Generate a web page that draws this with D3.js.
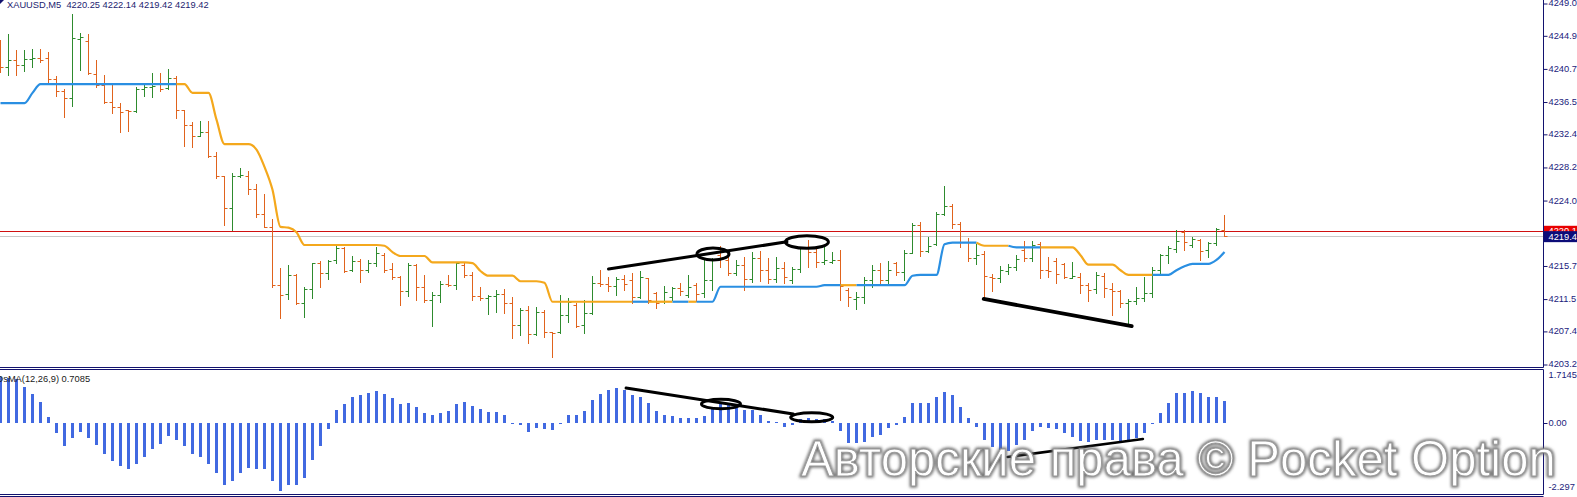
<!DOCTYPE html>
<html>
<head>
<meta charset="utf-8">
<script src="https://cdnjs.cloudflare.com/ajax/libs/d3/7.8.5/d3.min.js"></script>
<style>
  html, body { margin: 0; padding: 0; background: #fff; overflow: hidden; }
  svg { display: block; }
  text { font-family: "Liberation Sans", Arial, sans-serif; }
</style>
</head>
<body>
<div id="chart"></div>
<script>
// XAUUSD M5 bars
const open = [
  4243.3,4240.9,4241.8,4241.1,4241.9,4242.0,4242.0,4239.4,4237.8,4236.9,
  4244.4,4244.2,4240.0,4238.6,4236.4,4235.8,4235.4,4235.3,4238.1,4238.3,
  4238.9,4238.2,4239.5,4235.4,4233.5,4232.1,4232.6,4229.6,4227.1,4223.0,
  4227.1,4227.1,4225.4,4222.2,4220.6,4213.2,4212.1,4214.5,4210.9,4212.7,
  4216.0,4214.7,4216.4,4217.9,4215.1,4216.3,4215.1,4216.0,4217.0,4215.3,
  4214.2,4212.5,4215.8,4213.0,4211.3,4212.0,4213.3,4213.2,4215.8,4214.5,
  4211.8,4211.6,4211.8,4212.1,4210.9,4208.2,4210.0,4207.0,4209.8,4207.3,
  4207.3,4209.4,4210.7,4208.2,4209.7,4213.5,4213.3,4213.1,4214.0,4213.9,
  4211.7,4214.1,4212.2,4211.2,4211.7,4212.8,4212.0,4213.2,4212.2,4213.9,
  4217.0,4216.4,4214.7,4215.8,4214.0,4216.6,4215.1,4214.0,4215.4,4213.9,
  4215.3,4217.9,4217.4,4216.1,4216.1,4216.4,4212.6,4211.4,4211.7,4213.9,
  4215.1,4213.9,4216.0,4214.9,4217.3,4220.8,4217.5,4218.4,4222.2,4223.2,
  4221.0,4218.7,4216.6,4217.2,4214.2,4214.1,4215.0,4215.5,4217.7,4216.6,
  4218.4,4215.1,4216.3,4215.9,4214.1,4214.2,4213.2,4212.7,4214.4,4212.7,
  4212.5,4210.9,4211.2,4211.6,4212.2,4215.1,4217.0,4217.8,4219.9,4218.3,
  4218.9,4217.7,4218.6,4220.25];
const high = [
  4244.3,4245.1,4243.0,4243.0,4243.2,4243.2,4242.8,4239.7,4238.1,4247.6,
  4245.2,4245.1,4241.8,4239.9,4238.7,4236.3,4235.4,4238.3,4238.6,4240.1,
  4240.1,4240.6,4239.7,4235.4,4233.9,4234.0,4234.0,4230.1,4227.1,4227.4,
  4228.1,4227.7,4226.0,4224.8,4221.6,4215.4,4215.8,4214.6,4213.0,4216.0,
  4216.3,4216.4,4218.3,4218.0,4216.9,4216.5,4216.4,4218.0,4217.3,4216.0,
  4214.4,4216.0,4215.9,4214.5,4212.3,4213.7,4214.5,4216.0,4216.0,4214.9,
  4213.0,4212.0,4212.6,4212.7,4211.7,4210.3,4210.6,4210.4,4210.0,4207.3,
  4212.0,4211.6,4210.9,4211.3,4214.4,4215.1,4214.2,4214.2,4214.5,4214.7,
  4215.0,4214.1,4212.3,4213.1,4213.0,4213.5,4214.5,4213.5,4216.4,4216.6,
  4218.2,4216.8,4216.4,4216.8,4217.4,4217.5,4216.6,4216.8,4216.1,4215.5,
  4218.0,4218.9,4218.0,4218.0,4217.4,4217.7,4212.8,4212.3,4214.2,4215.8,
  4216.0,4216.3,4216.1,4217.7,4221.1,4221.2,4219.3,4222.5,4225.8,4223.5,
  4221.2,4219.2,4218.4,4217.5,4214.6,4215.6,4215.9,4217.0,4218.8,4218.8,
  4218.7,4216.8,4216.6,4216.0,4216.1,4214.7,4213.5,4214.9,4214.7,4213.5,
  4212.6,4211.4,4213.0,4214.2,4215.5,4217.2,4218.2,4220.2,4220.2,4219.3,
  4219.1,4218.7,4220.5,4222.14];
const low = [
  4240.2,4239.9,4239.9,4240.4,4240.9,4241.5,4238.9,4237.2,4234.5,4235.9,
  4240.5,4240.0,4238.3,4236.3,4235.0,4232.6,4232.8,4235.2,4237.2,4237.1,
  4237.8,4238.1,4234.4,4230.9,4230.7,4232.1,4229.5,4226.8,4220.8,4220.2,
  4226.9,4224.8,4221.8,4220.6,4213.0,4209.0,4211.4,4210.8,4209.2,4211.6,
  4213.0,4214.0,4216.0,4214.9,4215.0,4213.6,4214.9,4215.6,4214.9,4214.0,
  4210.7,4211.8,4211.3,4211.1,4208.0,4211.1,4213.1,4212.7,4214.2,4211.3,
  4211.3,4209.5,4209.8,4209.7,4206.5,4206.9,4205.9,4206.9,4206.6,4204.1,
  4207.1,4208.5,4207.9,4207.1,4209.5,4213.1,4212.5,4212.0,4212.6,4210.9,
  4211.6,4210.9,4210.3,4210.9,4211.3,4212.0,4211.7,4211.2,4211.7,4212.6,
  4215.5,4214.5,4214.5,4212.6,4213.6,4213.7,4213.5,4213.6,4213.5,4213.5,
  4214.9,4215.5,4215.5,4215.9,4216.0,4211.3,4210.6,4210.2,4210.9,4213.0,
  4213.5,4213.2,4214.5,4213.9,4217.3,4216.9,4217.4,4218.3,4222.1,4220.5,
  4218.0,4216.3,4215.9,4211.6,4212.5,4213.6,4214.6,4215.1,4216.3,4216.3,
  4214.1,4214.2,4213.5,4214.1,4214.1,4212.2,4211.2,4212.2,4211.7,4209.4,
  4210.4,4208.2,4210.8,4211.2,4211.7,4214.7,4216.0,4217.4,4217.7,4218.0,
  4216.4,4216.8,4218.3,4219.42];
const close = [
  4240.9,4241.8,4241.1,4241.9,4242.0,4241.8,4239.4,4237.8,4236.9,4244.6,
  4244.7,4240.1,4238.6,4236.4,4235.8,4235.2,4235.3,4238.1,4238.3,4238.5,
  4238.1,4239.5,4235.4,4233.5,4232.1,4232.6,4229.6,4227.1,4223.0,4227.1,
  4227.2,4225.4,4222.2,4220.6,4213.2,4212.0,4214.5,4210.9,4212.7,4216.0,
  4214.7,4216.3,4217.9,4215.0,4216.3,4215.1,4216.0,4217.3,4215.1,4214.2,
  4212.5,4215.8,4213.0,4211.3,4212.0,4213.3,4213.2,4216.0,4214.5,4211.8,
  4211.6,4211.8,4212.1,4210.9,4208.2,4210.0,4207.0,4209.8,4207.3,4207.1,
  4209.4,4211.1,4208.0,4209.7,4213.5,4213.3,4213.1,4214.0,4213.3,4211.7,
  4214.2,4211.3,4210.9,4212.3,4212.8,4212.5,4213.0,4212.1,4213.9,4216.4,
  4216.5,4214.7,4215.8,4214.0,4216.6,4215.1,4214.0,4215.4,4214.2,4215.3,
  4217.9,4217.4,4216.1,4216.4,4216.4,4213.1,4211.7,4211.7,4213.9,4215.1,
  4213.9,4215.1,4214.9,4217.3,4220.8,4217.5,4218.2,4222.2,4223.2,4221.0,
  4218.7,4216.6,4217.0,4214.4,4214.1,4215.1,4215.5,4216.5,4216.6,4218.3,
  4215.1,4215.0,4214.6,4214.2,4214.4,4213.2,4212.6,4214.5,4212.8,4212.5,
  4210.9,4211.2,4211.6,4212.2,4215.1,4217.0,4217.9,4218.8,4218.7,4219.1,
  4217.5,4218.6,4220.3,4219.42];

// trailing stop line and its colour (1 = blue / up, 0 = orange / down)
const trail = [
  4236.3,4236.3,4236.3,4236.3,4237.6,4238.7,4238.7,4238.7,4238.7,4238.7,
  4238.7,4238.7,4238.7,4238.7,4238.7,4238.7,4238.7,4238.7,4238.7,4238.7,
  4238.7,4238.7,4238.7,4238.7,4237.6,4237.6,4237.6,4234.2,4231.1,4231.1,
  4231.1,4231.1,4230.4,4228.2,4225.3,4220.6,4220.5,4219.9,4218.3,4218.3,
  4218.3,4218.3,4218.3,4218.3,4218.3,4218.3,4218.3,4218.3,4218.2,4217.4,
  4216.9,4216.9,4216.9,4216.9,4216.1,4216.1,4216.1,4216.1,4216.1,4216.0,
  4215.0,4214.4,4214.4,4214.4,4214.4,4213.7,4213.7,4213.7,4213.5,4211.1,
  4211.1,4211.1,4211.1,4211.1,4211.1,4211.1,4211.1,4211.1,4211.1,4211.1,
  4211.1,4211.1,4211.1,4211.1,4211.1,4211.1,4211.1,4211.1,4211.1,4211.1,
  4213.0,4213.0,4213.0,4213.0,4213.0,4213.0,4213.0,4213.0,4213.0,4213.0,
  4213.0,4213.0,4213.0,4213.2,4213.2,4213.2,4213.2,4213.2,4213.2,4213.2,
  4213.2,4213.2,4213.2,4213.2,4214.4,4214.5,4214.5,4214.5,4218.4,4218.6,
  4218.6,4218.6,4218.6,4218.2,4218.2,4218.2,4218.2,4218.0,4218.0,4218.0,
  4218.0,4218.0,4218.0,4218.0,4218.0,4217.0,4215.8,4215.8,4215.8,4215.8,
  4215.1,4214.5,4214.5,4214.5,4214.5,4214.5,4214.5,4215.1,4215.6,4215.9,
  4215.9,4215.9,4216.4,4217.4];
const trailUp = [
  1,1,1,1,1,1,1,1,1,1, 1,1,1,1,1,1,1,1,1,1,
  1,1,0,0,0,0,0,0,0,0, 0,0,0,0,0,0,0,0,0,0,
  0,0,0,0,0,0,0,0,0,0, 0,0,0,0,0,0,0,0,0,0,
  0,0,0,0,0,0,0,0,0,0, 0,0,0,0,0,0,0,0,0,1,
  1,0,0,0,1,1,0,1,1,1, 1,1,1,1,1,1,1,1,1,1,
  1,1,1,1,1,0,0,1,1,1, 1,1,1,1,1,1,1,1,1,1,
  1,1,0,0,0,0,1,1,1,1, 0,0,0,0,0,0,0,0,0,0,
  0,0,0,0,1,1,1,1,1,1, 1,1,1,1];

// OsMA(12,26,9) histogram
const osma = [
  1.50,1.47,1.43,1.17,0.94,0.68,0.20,-0.31,-0.73,-0.48,
  -0.28,-0.48,-0.71,-1.00,-1.22,-1.39,-1.48,-1.33,-1.09,-0.84,
  -0.68,-0.42,-0.55,-0.74,-1.00,-1.09,-1.33,-1.61,-2.01,-1.87,
  -1.61,-1.47,-1.48,-1.48,-1.87,-2.20,-2.01,-2.01,-1.77,-1.20,
  -0.74,-0.19,0.42,0.61,0.83,0.91,0.96,1.04,0.94,0.80,
  0.61,0.66,0.53,0.33,0.26,0.33,0.40,0.61,0.68,0.55,
  0.46,0.37,0.36,0.26,-0.04,-0.06,-0.28,-0.17,-0.20,-0.23,
  -0.03,0.26,0.26,0.39,0.74,0.94,1.07,1.12,1.07,0.91,
  0.85,0.66,0.40,0.26,0.23,0.15,0.15,0.15,0.23,0.48,
  0.64,0.58,0.48,0.42,0.42,0.26,0.07,0.03,-0.12,-0.06,
  0.13,0.15,0.12,0.12,0.07,-0.25,-0.65,-0.66,-0.60,-0.46,
  -0.39,-0.17,-0.06,0.20,0.64,0.66,0.64,0.85,1.01,0.91,
  0.53,0.15,-0.12,-0.55,-0.79,-0.87,-0.90,-0.71,-0.55,-0.25,
  -0.12,-0.17,-0.20,-0.33,-0.44,-0.57,-0.60,-0.55,-0.55,-0.55,
  -0.60,-0.55,-0.49,-0.33,-0.03,0.33,0.64,0.96,0.98,1.04,
  0.98,0.85,0.83,0.7085];

const priceTicks = [4249.0, 4244.9, 4240.7, 4236.5, 4232.4, 4228.2, 4224.0, 4215.7, 4211.5, 4207.4, 4203.2];
const osmaTicks = [1.7145, 0, -2.297];
const osmaTickLabels = ["1.7145", "0.00", "-2.297"];
const bidPrice = 4219.42, askLine = 4220.1;

// hand drawn marks: [barIndex, value]
const priceTrendLines = [[[76.0, 4215.25], [98.3, 4218.7]], [[122.9, 4211.45], [141.4, 4208.0]]];
const priceCircles = [[89.06, 4217.16, 2.0, 0.76], [100.8, 4218.68, 2.69, 0.80]];
const osmaTrendLines = [[[78.2, 1.132], [99.1, 0.291]], [[125.9, -1.10], [142.8, -0.518]]];
const osmaCircles = [[90.06, 0.614, 2.44, 0.152], [101.4, 0.184, 2.63, 0.146]];

const W = 1577, H = 497, axisX = 1543.5;
const navy = "#12126e", upCol = "#2e8b2e", dnCol = "#e0631d";
const blue = "#2a8fe2", orange = "#f4a81c", histCol = "#4169e1";
const n = close.length;

const svg = d3.select("#chart").append("svg").attr("width", W).attr("height", H);
const defs = svg.append("defs");
defs.append("clipPath").attr("id", "mainClip").append("rect").attr("x", 0).attr("y", 0).attr("width", 1543).attr("height", 367);
defs.append("clipPath").attr("id", "subClip").append("rect").attr("x", 0).attr("y", 370).attr("width", 1543).attr("height", 124);
defs.append("filter").attr("id", "wmBlur").attr("x", "-5%").attr("y", "-20%").attr("width", "110%").attr("height", "140%")
  .append("feGaussianBlur").attr("stdDeviation", 1.6);

const x = d3.scaleLinear().domain([0, 153]).range([0.5, 1224.5]);
const y = d3.scaleLinear().domain([4203.2, 4249.0]).range([364, 3]);
const yM = d3.scaleLinear().domain([-2.297, 1.7145]).range([494, 370]);
const crisp = v => Math.round(v) + 0.5;

// main panel
const main = svg.append("g").attr("clip-path", "url(#mainClip)");

main.append("line").attr("x1", 0).attr("x2", 1543).attr("y1", crisp(y(bidPrice))).attr("y2", crisp(y(bidPrice)))
  .attr("stroke", "#c8c8c8");
main.append("line").attr("x1", 0).attr("x2", 1543).attr("y1", crisp(y(askLine))).attr("y2", crisp(y(askLine)))
  .attr("stroke", "#d01010");

const bars = main.append("g").selectAll("g").data(d3.range(n)).enter().append("g")
  .attr("stroke", i => close[i] > open[i] ? upCol : dnCol).attr("stroke-width", 1);
bars.append("line")
  .attr("x1", i => x(i)).attr("x2", i => x(i))
  .attr("y1", i => Math.round(y(high[i]))).attr("y2", i => Math.round(y(low[i])) + 1);
bars.append("line")
  .attr("x1", i => x(i) - 3).attr("x2", i => x(i))
  .attr("y1", i => crisp(y(open[i]))).attr("y2", i => crisp(y(open[i])));
bars.append("line")
  .attr("x1", i => x(i)).attr("x2", i => x(i) + 3)
  .attr("y1", i => crisp(y(close[i]))).attr("y2", i => crisp(y(close[i])));

// trailing line, split into colour runs
const runs = [];
for (let i = 0; i < n - 1; i++) {
  const last = runs[runs.length - 1];
  if (last && last.up === trailUp[i]) last.to = i + 1;
  else runs.push({up: trailUp[i], from: i, to: i + 1});
}
const trailLine = d3.line().x(i => x(i)).y(i => y(trail[i])).curve(d3.curveMonotoneX);
main.append("g").selectAll("path").data(runs).enter().append("path")
  .attr("d", r => trailLine(d3.range(r.from, r.to + 1)))
  .attr("fill", "none").attr("stroke", r => r.up ? blue : orange).attr("stroke-width", 2.2)
  .attr("stroke-linejoin", "round");

// annotations
main.selectAll("line.trend").data(priceTrendLines).enter().append("line").attr("class", "trend")
  .attr("x1", d => x(d[0][0])).attr("y1", d => y(d[0][1]))
  .attr("x2", d => x(d[1][0])).attr("y2", d => y(d[1][1]))
  .attr("stroke", "#000").attr("stroke-width", (d, k) => k ? 3.8 : 3).attr("stroke-linecap", "round");
main.selectAll("ellipse").data(priceCircles).enter().append("ellipse")
  .attr("cx", d => x(d[0])).attr("cy", d => y(d[1]))
  .attr("rx", d => x(d[2]) - x(0)).attr("ry", d => y(0) - y(d[3]))
  .attr("fill", "none").attr("stroke", "#000").attr("stroke-width", 3);

// OsMA panel
const sub = svg.append("g").attr("clip-path", "url(#subClip)");
const zeroY = yM(0);
sub.append("g").selectAll("rect").data(d3.range(n)).enter().append("rect")
  .attr("x", i => x(i) - 1.5).attr("width", 3)
  .attr("y", i => Math.round(Math.min(yM(osma[i]), zeroY)))
  .attr("height", i => Math.max(1, Math.round(Math.abs(yM(osma[i]) - zeroY))))
  .attr("fill", histCol);
sub.selectAll("line.trend").data(osmaTrendLines).enter().append("line").attr("class", "trend")
  .attr("x1", d => x(d[0][0])).attr("y1", d => yM(d[0][1]))
  .attr("x2", d => x(d[1][0])).attr("y2", d => yM(d[1][1]))
  .attr("stroke", "#000").attr("stroke-width", (d, k) => k ? 2.6 : 3).attr("stroke-linecap", "round");
sub.selectAll("ellipse").data(osmaCircles).enter().append("ellipse")
  .attr("cx", d => x(d[0])).attr("cy", d => yM(d[1]))
  .attr("rx", d => x(d[2]) - x(0)).attr("ry", d => yM(0) - yM(d[3]))
  .attr("fill", "none").attr("stroke", "#000").attr("stroke-width", 3);
sub.append("text").attr("x", -4).attr("y", 382).attr("font-size", 9.3).attr("fill", "#1a1a1a")
  .text("OsMA(12,26,9) 0.7085");

// header
svg.append("path").attr("d", "M0,0 L4,0 L0,4 Z").attr("fill", navy);
svg.append("text").attr("x", 7).attr("y", 7.5).attr("font-size", 9.3).attr("fill", "#1c1c70")
  .attr("xml:space", "preserve").text("XAUUSD,M5  4220.25 4222.14 4219.42 4219.42");

// frames
const frame = svg.append("g").attr("stroke", navy).attr("stroke-width", 1);
frame.append("line").attr("x1", 0).attr("x2", axisX).attr("y1", 367.5).attr("y2", 367.5);
frame.append("line").attr("x1", 0).attr("x2", axisX).attr("y1", 369.5).attr("y2", 369.5);
frame.append("line").attr("x1", 0).attr("x2", axisX).attr("y1", 494.5).attr("y2", 494.5);
frame.append("line").attr("x1", 0).attr("x2", axisX).attr("y1", 496.5).attr("y2", 496.5);
frame.append("line").attr("x1", axisX).attr("x2", axisX).attr("y1", 0).attr("y2", 367.5);
frame.append("line").attr("x1", axisX).attr("x2", axisX).attr("y1", 369.5).attr("y2", 494.5);

// price axis
const ax = svg.append("g").attr("transform", `translate(${axisX},0)`)
  .call(d3.axisRight(y).tickValues(priceTicks).tickSize(4).tickPadding(1).tickFormat(d3.format(".1f")));
ax.select(".domain").remove();
ax.selectAll(".tick line").attr("stroke", navy).attr("transform", "translate(0,0.5)");
ax.selectAll(".tick text").attr("fill", "#1b1b7c").attr("font-size", 9.3)
  .attr("font-family", "'Liberation Sans', Arial, sans-serif");

// price tags
const tagX = axisX + 0.5;
svg.append("rect").attr("x", tagX).attr("y", y(askLine) - 5).attr("width", W - tagX).attr("height", 10).attr("fill", "#e80000");
svg.append("text").attr("x", 1548.5).attr("y", y(askLine) + 3.3).attr("font-size", 9.3).attr("fill", "#fff").text(askLine.toFixed(1));
svg.append("rect").attr("x", tagX).attr("y", y(bidPrice) - 5).attr("width", W - tagX).attr("height", 11).attr("fill", "#0c0c78");
svg.append("text").attr("x", 1548.5).attr("y", y(bidPrice) + 4).attr("font-size", 9.3).attr("fill", "#fff").text("4219.4");

// OsMA axis
const sx = svg.append("g").attr("transform", `translate(${axisX},0)`);
osmaTicks.forEach((v, k) => {
  const ty = yM(v), inside = ty > 376 && ty < 488;
  const ly = Math.min(Math.max(ty, 375), 487);
  if (inside) sx.append("line").attr("x1", 0).attr("x2", 4).attr("y1", crisp(ty)).attr("y2", crisp(ty)).attr("stroke", navy);
  sx.append("text").attr("x", 5).attr("y", ly).attr("dy", "0.34em").attr("font-size", 9.3).attr("fill", "#1b1b7c")
    .text(osmaTickLabels[k]);
});

// watermark
const wmText = "Авторские права © Pocket Option";
const wm = svg.append("g");
const shadow = wm.append("text").attr("x", 801).attr("y", 476).attr("font-size", 48)
  .attr("fill", "none").attr("stroke", "#6a6a6a").attr("stroke-width", 3.2).attr("filter", "url(#wmBlur)").text(wmText);
const face = wm.append("text").attr("x", 801).attr("y", 476).attr("font-size", 48)
  .attr("fill", "#ffffff").attr("stroke", "#9a9a9a").attr("stroke-width", 1).text(wmText);
const len = face.node().getComputedTextLength();
const fs = 48 * 755 / len;
shadow.attr("font-size", fs);
face.attr("font-size", fs);
</script>
</body>
</html>
